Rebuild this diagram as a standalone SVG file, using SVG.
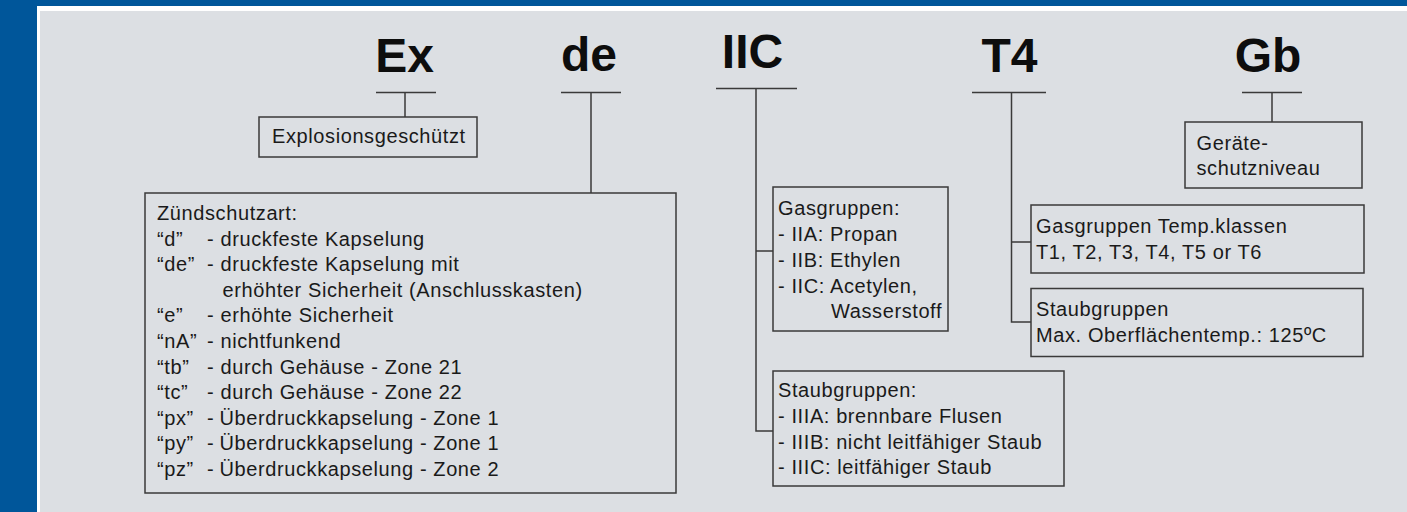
<svg xmlns="http://www.w3.org/2000/svg" width="1407" height="512" viewBox="0 0 1407 512">
<style>
.big{font-family:"Liberation Sans",Arial,sans-serif;font-weight:bold;font-size:48px;fill:#0d0d0d;text-anchor:middle}
.t{font-family:"Liberation Sans",Arial,sans-serif;font-size:20px;letter-spacing:0.6px;fill:#1a1a1a}
.box{fill:none;stroke:#3a3a3a;stroke-width:1.5}
.ln{fill:none;stroke:#3a3a3a;stroke-width:1.5}
</style>
<rect x="0" y="0" width="1407" height="512" fill="#00569A"/>
<rect x="37" y="6" width="1370" height="506" fill="#ffffff"/>
<rect x="40" y="11" width="1367" height="501" fill="#DCDFE3"/>

<g id="connectors">
  <path class="ln" d="M376 92.5H436M405 92.5V117"/>
  <path class="ln" d="M561 92.5H621M591 92.5V193"/>
  <path class="ln" d="M716 88.5H797M756 88.5V431H773M756 251H773"/>
  <path class="ln" d="M972 92.5H1046M1011.5 92.5V322H1031M1011.5 242H1031"/>
  <path class="ln" d="M1242 92.5H1302M1272 92.5V122"/>
</g>

<g id="label-ex"><text class="big" x="404.5" y="72">Ex</text></g>
<g id="label-de"><text class="big" x="589" y="71">de</text></g>
<g id="label-iic"><text class="big" x="752.5" y="68">IIC</text></g>
<g id="label-t4"><text class="big" x="1009.5" y="72">T4</text></g>
<g id="label-gb"><text class="big" x="1268" y="72">Gb</text></g>

<g id="box-explosion">
  <rect class="box" x="259" y="117" width="218" height="40"/>
  <text class="t" x="272" y="143">Explosionsgeschützt</text>
</g>

<g id="box-zuendschutzart">
  <rect class="box" x="145" y="193" width="531" height="300"/>
  <text class="t" x="157" y="220">Zündschutzart:</text>
  <text class="t" y="245.6"><tspan x="157">“d”</tspan><tspan x="207">-</tspan><tspan x="220.5">druckfeste Kapselung</tspan></text>
  <text class="t" y="271.2"><tspan x="157">“de”</tspan><tspan x="207">-</tspan><tspan x="220.5">druckfeste Kapselung mit</tspan></text>
  <text class="t" x="222.5" y="296.8">erhöhter Sicherheit (Anschlusskasten)</text>
  <text class="t" y="322.4"><tspan x="157">“e”</tspan><tspan x="207">-</tspan><tspan x="220.5">erhöhte Sicherheit</tspan></text>
  <text class="t" y="348"><tspan x="157">“nA”</tspan><tspan x="207">-</tspan><tspan x="220.5">nichtfunkend</tspan></text>
  <text class="t" y="373.6"><tspan x="157">“tb”</tspan><tspan x="207">-</tspan><tspan x="220.5">durch Gehäuse - Zone 21</tspan></text>
  <text class="t" y="399.2"><tspan x="157">“tc”</tspan><tspan x="207">-</tspan><tspan x="220.5">durch Gehäuse - Zone 22</tspan></text>
  <text class="t" y="424.8"><tspan x="157">“px”</tspan><tspan x="207">-</tspan><tspan x="219.5">Überdruckkapselung - Zone 1</tspan></text>
  <text class="t" y="450.4"><tspan x="157">“py”</tspan><tspan x="207">-</tspan><tspan x="219.5">Überdruckkapselung - Zone 1</tspan></text>
  <text class="t" y="476"><tspan x="157">“pz”</tspan><tspan x="207">-</tspan><tspan x="219.5">Überdruckkapselung - Zone 2</tspan></text>
</g>

<g id="box-gasgruppen">
  <rect class="box" x="773" y="187" width="175" height="144"/>
  <text class="t" x="778" y="215">Gasgruppen:</text>
  <text class="t" x="778" y="241">- IIA: Propan</text>
  <text class="t" x="778" y="267">- IIB: Ethylen</text>
  <text class="t" x="778" y="293">- IIC: Acetylen,</text>
  <text class="t" x="831" y="318">Wasserstoff</text>
</g>

<g id="box-staubgruppen">
  <rect class="box" x="773" y="371" width="291" height="115"/>
  <text class="t" x="778" y="397">Staubgruppen:</text>
  <text class="t" x="778" y="423">- IIIA: brennbare Flusen</text>
  <text class="t" x="778" y="448.5">- IIIB: nicht leitfähiger Staub</text>
  <text class="t" x="778" y="474">- IIIC: leitfähiger Staub</text>
</g>

<g id="box-tempklassen">
  <rect class="box" x="1031" y="205" width="333" height="68"/>
  <text class="t" x="1036" y="232.5">Gasgruppen Temp.klassen</text>
  <text class="t" x="1036" y="259">T1, T2, T3, T4, T5 or T6</text>
</g>

<g id="box-staubtemp">
  <rect class="box" x="1031" y="288.5" width="332" height="68"/>
  <text class="t" x="1036" y="316">Staubgruppen</text>
  <text class="t" x="1036" y="342">Max. Oberflächentemp.: 125ºC</text>
</g>

<g id="box-geraete">
  <rect class="box" x="1185" y="122" width="177" height="66"/>
  <text class="t" x="1196.5" y="149.5">Geräte-</text>
  <text class="t" x="1196.5" y="174.5">schutzniveau</text>
</g>
</svg>
